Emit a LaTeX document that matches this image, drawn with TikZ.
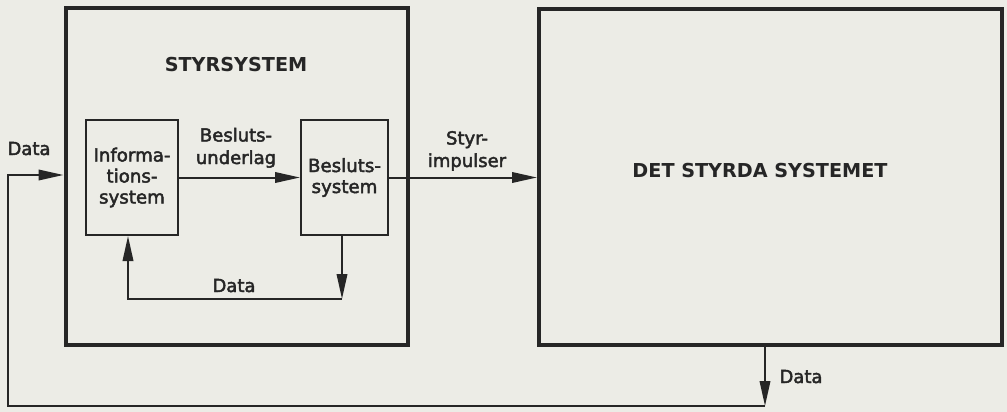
\documentclass[tikz,border=0pt]{standalone}
\usepackage{fontspec}
\setmainfont{DejaVu Sans}
\newfontfamily\labfont{DejaVu Sans}[FakeBold=2.5]
\newfontfamily\capfont{DejaVu Sans Bold}
\usetikzlibrary{arrows.meta}
\definecolor{bg}{RGB}{236,236,230}
\definecolor{ink}{RGB}{38,38,38}
\tikzset{
  thickbox/.style={draw=ink, line width=4pt, rectangle, inner sep=0pt},
  thinbox/.style={draw=ink, line width=2pt, rectangle, inner sep=0pt, align=center,
    font=\labfont\fontsize{18.2}{21}\selectfont, text=ink},
  arr/.style={draw=ink, line width=2pt, -{Triangle[length=25pt,width=10.5pt]}},
  lab/.style={font=\labfont\fontsize{18}{22.5}\selectfont, text=ink, align=center, inner sep=0pt, anchor=base},
  captext/.style={font=\capfont\fontsize{19.2}{22}\selectfont, text=ink, inner sep=0pt, anchor=base},
}
\begin{document}
\begin{tikzpicture}[x=1pt,y=-1pt]
\fill[bg] (0,0) rectangle (1007,412);
\useasboundingbox (0,0) rectangle (1007,412);
% boxes
\node[thickbox, minimum width=342pt, minimum height=337pt] (S) at (236.5,176.5) {};
\node[thickbox, minimum width=463pt, minimum height=336pt] (D) at (770.5,177) {};
\node[thinbox, minimum width=92pt, minimum height=115pt] (I) at (132,177.5) {\raisebox{-2pt}{\parbox{90pt}{\centering Informa-\\tions-\\system}}};
\node[thinbox, minimum width=87pt, minimum height=115pt] (B) at (344.5,177.5) {Besluts-\\system};
% labels
\node[captext] (tS) at (236,72) {STYRSYSTEM};
\node[captext] (tD) at (760,177) {DET STYRDA SYSTEMET};
\node[lab] (l1) at (29,155) {Data};
\node[lab] (l2) at (236,164) {Besluts-\\underlag};
\node[lab] (l3) at (467,167) {Styr-\\impulser};
\node[lab] (l4) at (234,292) {Data};
\node[lab] (l5) at (801,383) {Data};
% coordinates
\coordinate (c1) at (342,299);
\coordinate (c2) at (128,299);
\coordinate (c3) at (765,406);
\coordinate (c4) at (8,406);
\coordinate (c5) at (8,175);
% connectors
\draw[arr] (I.east) -- (B.west);
\draw[arr] (B.east) -- (D.west |- B.east);
\draw[arr] (B.south -| c1) -- (c1);
\draw[arr] (c1) -- (c2) -- (I.south -| c2);
\draw[arr] (D.south -| c3) -- (c3);
\draw[arr] (c3) -- (c4) -- (c5) -- (S.west |- c5);
\end{tikzpicture}
\end{document}
